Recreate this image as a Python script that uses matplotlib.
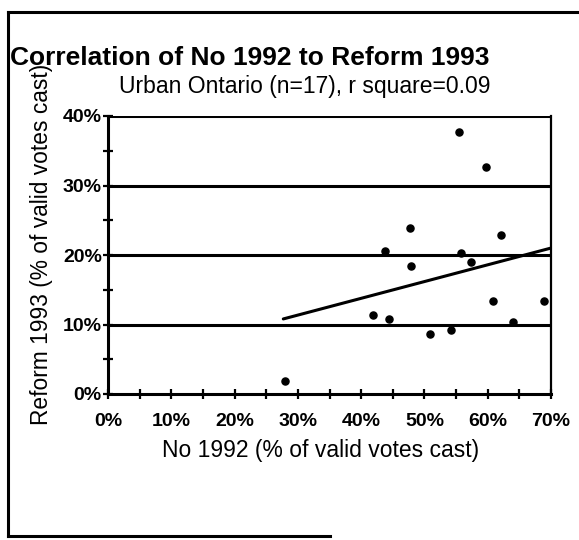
import matplotlib
matplotlib.use("Agg")
import matplotlib.pyplot as plt
from matplotlib.ticker import MultipleLocator, FixedLocator
from matplotlib.lines import Line2D

plt.rcParams['font.family'] = ['Liberation Sans', 'DejaVu Sans']

# Data (percent)
no_1992 = [55.5, 59.7, 47.7, 62.1, 43.8, 55.8, 57.4, 47.9, 60.8, 68.9,
           41.9, 44.4, 64.0, 50.9, 54.2, 27.9]
reform_1993 = [37.7, 32.7, 23.9, 22.9, 20.6, 20.3, 19.0, 18.4, 13.4, 13.4,
               11.3, 10.8, 10.4, 8.6, 9.2, 1.9]
trend_x = [27.7, 70.0]
trend_y = [10.8, 21.0]
x_ticks = [0, 10, 20, 30, 40, 50, 60, 70]
y_ticks = [0, 10, 20, 30, 40]
x_tick_labels = ['0%', '10%', '20%', '30%', '40%', '50%', '60%', '70%']
y_tick_labels = ['0%', '10%', '20%', '30%', '40%']

W, H = 579, 540
fig = plt.figure(figsize=(W / 100, H / 100), dpi=100)
fig.patch.set_facecolor('white')

def fx(px):
    return px / W

def fy(py):
    return 1 - py / H

AX_L, AX_R, AX_T, AX_B = 108, 551, 116, 394
ax = fig.add_axes([fx(AX_L), fy(AX_B), fx(AX_R) - fx(AX_L), fy(AX_T) - fy(AX_B)])
ax.set_xlim(0, 70)
ax.set_ylim(0, 40)

# gridlines
for yv in y_ticks[1:]:
    ax.axhline(yv, color='black', lw=2.2, zorder=1)

ax.plot(trend_x, trend_y, color='black', lw=2.2, zorder=2, solid_capstyle='round')
ax.scatter(no_1992, reform_1993, s=26, color='black', zorder=3, marker='o')

for side in ['left', 'bottom']:
    ax.spines[side].set_linewidth(2.2)
ax.spines['right'].set_linewidth(1.6)
ax.spines['top'].set_visible(False)

ax.xaxis.set_major_locator(FixedLocator(x_ticks))
ax.yaxis.set_major_locator(FixedLocator(y_ticks))
ax.xaxis.set_minor_locator(MultipleLocator(5))
ax.yaxis.set_minor_locator(MultipleLocator(5))
ax.set_xticklabels(x_tick_labels)
ax.set_yticklabels(y_tick_labels)
ax.tick_params(axis='both', which='both', direction='inout', length=7, width=1.6,
               color='black')
ax.tick_params(axis='x', which='major', labelsize=14, pad=10)
ax.tick_params(axis='y', which='major', labelsize=14, pad=1)
for lab in ax.get_xticklabels() + ax.get_yticklabels():
    lab.set_fontweight('bold')

ax.set_xlabel('No 1992 (% of valid votes cast)', fontsize=16.5)
ax.set_ylabel('Reform 1993 (% of valid votes cast)', fontsize=16.4)
ax.xaxis.set_label_coords((321 - AX_L) / (AX_R - AX_L), -(439 - AX_B) / (AX_B - AX_T))
ax.yaxis.set_label_coords(-(AX_L - 53) / (AX_R - AX_L), (AX_B - 244) / (AX_B - AX_T))

fig.text(fx(10), fy(58), 'Correlation of No 1992 to Reform 1993', fontsize=19,
         fontweight='bold', ha='left', va='center')
fig.text(fx(305), fy(86), 'Urban Ontario (n=17), r square=0.09', fontsize=16.5,
         ha='center', va='center')

# scanned page frame
fig.add_artist(Line2D([fx(8), fx(8)], [fy(12), fy(536)], color='black', lw=2.2))
fig.add_artist(Line2D([fx(8), fx(579)], [fy(12), fy(12)], color='black', lw=2.2))
fig.add_artist(Line2D([fx(8), fx(330)], [fy(536), fy(536)], color='black', lw=2.2))

fig.savefig('out.png', dpi=100, facecolor='white')
